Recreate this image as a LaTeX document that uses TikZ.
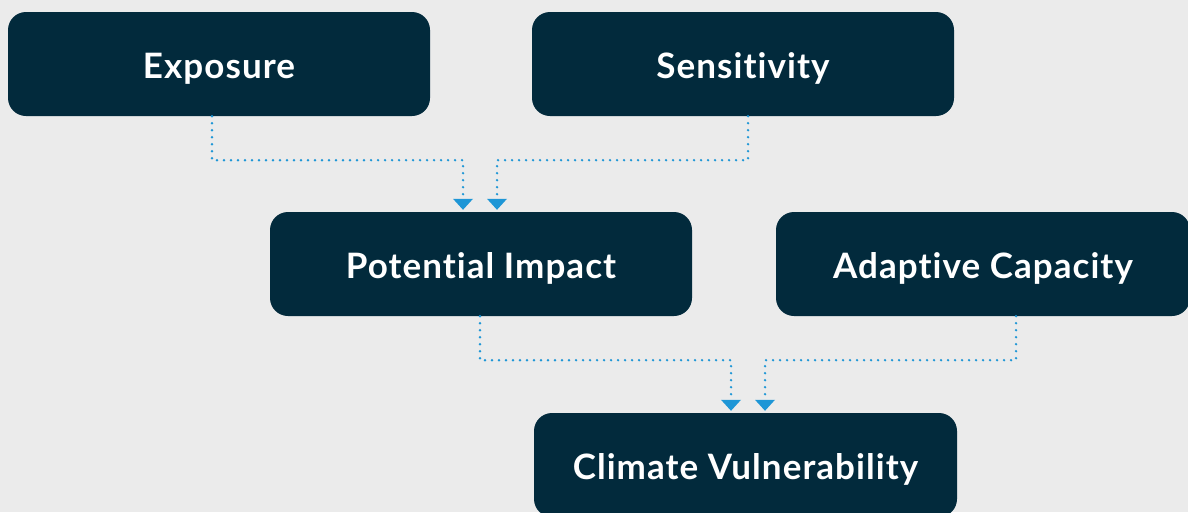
\documentclass[tikz,border=0pt]{standalone}
\usepackage{fontspec}
\setmainfont[Ligatures={NoCommon},LetterSpace=3]{Lato}
\usetikzlibrary{arrows.meta}
\definecolor{boxc}{HTML}{022A3C}
\definecolor{bgc}{HTML}{EBEBEB}
\definecolor{arrc}{HTML}{1E96D6}
\tikzset{
  boxnode/.style={draw=none, fill=boxc, rounded corners=18pt, minimum height=104pt,
    inner sep=0pt, text=white, text height=29pt, text depth=0pt,
    font=\fontsize{35}{40}\selectfont\bfseries},
  conn/.style={draw=arrc, line width=2.6pt, line cap=round, dash pattern=on 0pt off 7pt,
    -{Triangle[width=20pt,length=11pt,fill=arrc,line width=0pt]}, shorten >=2pt}
}
\begin{document}
\begin{tikzpicture}[x=1pt,y=-1pt]
\fill[bgc] (0,0) rectangle (1188,512);
\useasboundingbox (0,0) rectangle (1188,512);
\clip (0,0) rectangle (1188,512);
\node[boxnode, minimum width=422pt] (exp) at (219,64) {Exposure};
\node[boxnode, minimum width=422pt] (sen) at (743,64) {Sensitivity};
\node[boxnode, minimum width=422pt] (pi) at (481,264) {Potential Impact};
\node[boxnode, minimum width=414pt] (ac) at (983,264) {Adaptive Capacity};
\node[boxnode, minimum width=423pt] (cv) at (745.5,465) {Climate Vulnerability};
\draw[conn] ([xshift=-7pt]exp.south) -- ++(0,44) -| ([xshift=-18pt]pi.north);
\draw[conn] ([xshift=5pt]sen.south) -- ++(0,44) -| ([xshift=16pt]pi.north);
\draw[conn] ([xshift=-1pt]pi.south) -- ++(0,44) -| ([xshift=-14.5pt]cv.north);
\draw[conn] ([xshift=33pt]ac.south) -- ++(0,44) -| ([xshift=19.5pt]cv.north);
\end{tikzpicture}
\end{document}
